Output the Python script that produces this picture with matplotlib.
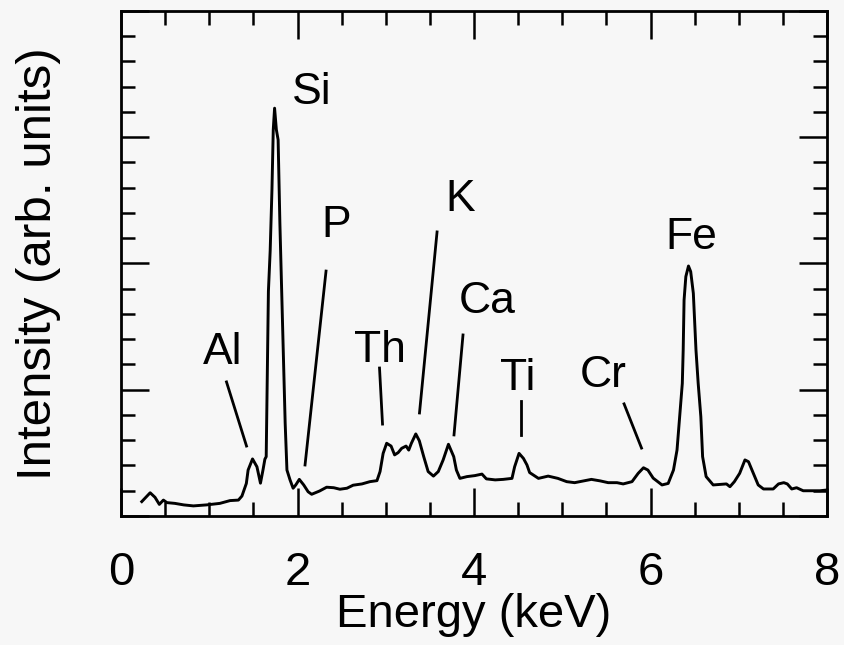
import matplotlib
matplotlib.use('Agg')
import matplotlib.pyplot as plt
from matplotlib.ticker import MultipleLocator, NullFormatter

# spectrum (energy in keV, intensity in arbitrary units)
energy = [0.235, 0.33, 0.385, 0.434, 0.48, 0.52, 0.61, 0.71, 0.82, 0.97, 1.12, 1.235,
          1.33, 1.37, 1.42, 1.44, 1.49, 1.54, 1.58, 1.61, 1.63, 1.645, 1.655, 1.67,
          1.69, 1.71, 1.725, 1.74, 1.76, 1.78, 1.80, 1.82, 1.84, 1.86, 1.88, 1.915,
          1.95, 1.98, 2.02, 2.07, 2.12, 2.16, 2.25, 2.33, 2.41, 2.48, 2.56, 2.63,
          2.73, 2.82, 2.90, 2.935, 2.97, 3.01, 3.06, 3.10, 3.14, 3.18, 3.23, 3.26,
          3.29, 3.34, 3.38, 3.43, 3.48, 3.54, 3.595, 3.65, 3.71, 3.77, 3.80, 3.84,
          3.92, 4.01, 4.09, 4.14, 4.24, 4.33, 4.43, 4.46, 4.51, 4.56, 4.60, 4.63,
          4.73, 4.84, 4.95, 5.05, 5.14, 5.24, 5.33, 5.43, 5.52, 5.62, 5.69, 5.79,
          5.86, 5.92, 5.97, 6.03, 6.13, 6.20, 6.26, 6.30, 6.33, 6.36, 6.37, 6.38,
          6.40, 6.43, 6.455, 6.485, 6.515, 6.54, 6.57, 6.59, 6.63, 6.71, 6.78, 6.86,
          6.90, 6.95, 7.01, 7.07, 7.11, 7.165, 7.22, 7.28, 7.39, 7.45, 7.51, 7.55,
          7.60, 7.655, 7.73, 7.83, 7.92, 8.0]
intensity = [0.57, 0.92, 0.74, 0.46, 0.63, 0.53, 0.50, 0.44, 0.40, 0.44, 0.50, 0.61,
             0.63, 0.79, 1.29, 1.82, 2.26, 1.95, 1.30, 1.85, 2.25, 2.35, 5.0, 8.9,
             10.5, 12.9, 15.3, 16.15, 15.3, 14.9, 11.6, 8.95, 6.31, 3.67, 1.82, 1.43,
             1.10, 1.23, 1.45, 1.23, 0.96, 0.86, 0.99, 1.14, 1.12, 1.06, 1.10, 1.22,
             1.27, 1.36, 1.40, 1.76, 2.48, 2.88, 2.77, 2.42, 2.51, 2.68, 2.77, 2.61,
             2.88, 3.25, 2.98, 2.35, 1.76, 1.58, 1.76, 2.22, 2.84, 2.35, 1.82, 1.49,
             1.56, 1.60, 1.66, 1.47, 1.43, 1.45, 1.49, 1.95, 2.48, 2.28, 2.02, 1.72,
             1.49, 1.58, 1.49, 1.36, 1.32, 1.39, 1.45, 1.39, 1.32, 1.32, 1.27, 1.36,
             1.69, 1.91, 1.82, 1.50, 1.23, 1.29, 1.82, 2.61, 3.93, 5.25, 6.57, 8.55,
             9.48, 9.90, 9.68, 8.82, 6.57, 5.25, 3.93, 2.35, 1.56, 1.23, 1.25, 1.27,
             1.16, 1.36, 1.69, 2.22, 2.15, 1.69, 1.23, 1.07, 1.07, 1.27, 1.32, 1.27,
             1.07, 1.12, 1.00, 1.00, 1.00, 1.03]

# element labels: text position and the pointer line (start, end)
elements = ['Al', 'Si', 'P', 'Th', 'K', 'Ca', 'Ti', 'Cr', 'Fe']
label_x = [1.155, 2.16, 2.435, 2.935, 3.84, 4.147, 4.50, 5.46, 6.46]
label_y = [6.02, 16.32, 11.05, 6.10, 12.08, 8.04, 4.99, 5.11, 10.57]
pointer_x0 = [1.195, None, 2.323, 2.929, 3.581, 3.875, 4.533, 5.70, None]
pointer_y0 = [5.31, None, 9.70, 5.86, 11.25, 7.17, 4.55, 4.44, None]
pointer_x1 = [1.422, None, 2.085, 2.963, 3.382, 3.773, 4.533, 5.898, None]
pointer_y1 = [2.77, None, 2.02, 3.64, 4.08, 3.21, 3.21, 2.69, None]

bg = '#f7f7f7'
plt.rcParams['font.family'] = ['Liberation Sans', 'DejaVu Sans']

fig = plt.figure(figsize=(8.44, 6.45), dpi=100, facecolor=bg)
ax = fig.add_axes([0.1434, 0.2, 0.8365, 0.783], facecolor=bg)

ax.plot(energy, intensity, color='black', linewidth=2.1)

for i, name in enumerate(elements):
    ax.text(label_x[i], label_y[i], name, ha='center', va='baseline', fontsize=32)
    if pointer_x0[i] is not None:
        ax.plot([pointer_x0[i], pointer_x1[i]], [pointer_y0[i], pointer_y1[i]],
                color='black', linewidth=2.0)

ax.set_xlim(0, 8)
ax.set_ylim(0, 20)

# ticks inward on all four sides, no y tick labels
ax.xaxis.set_major_locator(MultipleLocator(2))
ax.xaxis.set_minor_locator(MultipleLocator(0.5))
ax.yaxis.set_major_locator(MultipleLocator(5))
ax.yaxis.set_minor_locator(MultipleLocator(1))
ax.yaxis.set_major_formatter(NullFormatter())
ax.tick_params(which='both', direction='in', top=True, right=True, width=1.8)
ax.tick_params(which='major', length=20)
ax.tick_params(which='minor', length=10)
ax.tick_params(axis='x', which='major', labelsize=34, pad=25)

for spine in ax.spines.values():
    spine.set_linewidth(2.0)

ax.set_xlabel('Energy (keV)', fontsize=34, labelpad=-1)
ax.set_ylabel('Intensity (arb. units)', fontsize=35.5, labelpad=40)

fig.savefig('out.png', dpi=100, facecolor=bg)
